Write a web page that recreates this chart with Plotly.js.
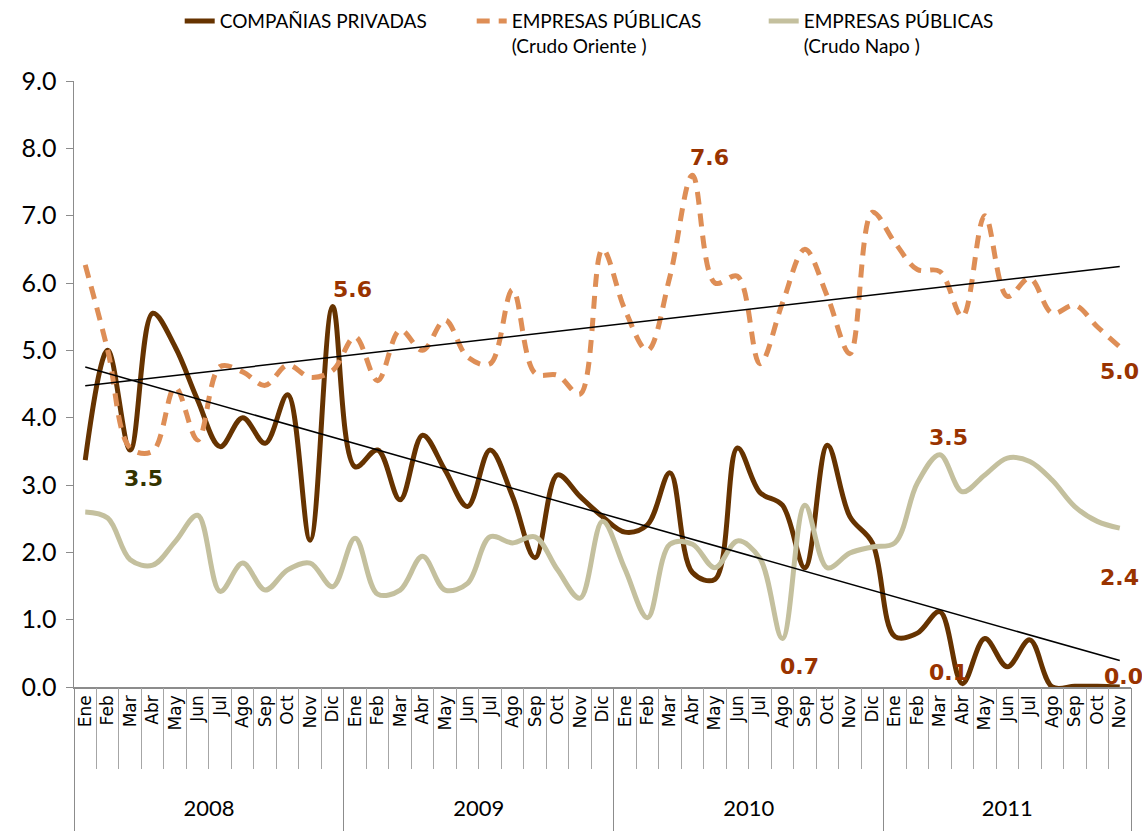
<!DOCTYPE html>
<html>
<head>
<meta charset="utf-8">
<script src="https://cdn.plot.ly/plotly-3.0.1.min.js"></script>
<style>
  html, body { margin: 0; padding: 0; background: #ffffff; }
  #chart { width: 1142px; height: 831px; }
</style>
</head>
<body>
<div id="chart"></div>
<script>
// ---- Data ----
const meses = [
  'Ene','Feb','Mar','Abr','May','Jun','Jul','Ago','Sep','Oct','Nov','Dic',
  'Ene','Feb','Mar','Abr','May','Jun','Jul','Ago','Sep','Oct','Nov','Dic',
  'Ene','Feb','Mar','Abr','May','Jun','Jul','Ago','Sep','Oct','Nov','Dic',
  'Ene','Feb','Mar','Abr','May','Jun','Jul','Ago','Sep','Oct','Nov'
];
const anios = ['2008', '2009', '2010', '2011'];
const mesesPorAnio = [12, 12, 12, 11];

const privadas = [
  3.37, 5.00, 3.52, 5.55, 5.05, 4.26, 3.57, 4.00, 3.62, 4.34, 2.18, 5.65,
  3.27, 3.52, 2.78, 3.74, 3.22, 2.68, 3.52, 2.83, 1.92, 3.15, 2.83, 2.53,
  2.30, 2.41, 3.18, 1.70, 1.60, 3.55, 2.89, 2.70, 1.77, 3.59, 2.53, 2.14,
  0.75, 0.80, 1.12, 0.05, 0.72, 0.30, 0.70, 0.00, 0.01, 0.01, 0.00
];
const oriente = [
  6.27, 5.00, 3.55, 3.50, 4.45, 3.67, 4.76, 4.68, 4.48, 4.78, 4.60, 4.70,
  5.20, 4.55, 5.30, 5.00, 5.45, 4.90, 4.80, 5.90, 4.66, 4.63, 4.35, 6.50,
  5.60, 5.00, 6.10, 7.60, 6.00, 6.10, 4.80, 5.70, 6.50, 5.80, 4.95, 7.05,
  6.60, 6.20, 6.17, 5.50, 7.00, 5.80, 6.07, 5.55, 5.67, 5.35, 5.05
];
const napo = [
  2.60, 2.51, 1.89, 1.81, 2.16, 2.55, 1.42, 1.84, 1.44, 1.74, 1.84, 1.49,
  2.21, 1.38, 1.44, 1.94, 1.44, 1.54, 2.23, 2.14, 2.23, 1.74, 1.32, 2.46,
  1.75, 1.03, 2.12, 2.12, 1.77, 2.17, 1.91, 0.72, 2.70, 1.77, 1.99, 2.08,
  2.14, 3.03, 3.45, 2.90, 3.15, 3.40, 3.35, 3.07, 2.68, 2.46, 2.36
];
const nombres = [
  'COMPAÑIAS PRIVADAS',
  'EMPRESAS PÚBLICAS<br>(Crudo Oriente )',
  'EMPRESAS PÚBLICAS<br>(Crudo Napo )'
];
// value labels: [month position, y position, text, colour key]
const etiquetas = [
  [2.6, 3.1, '3.5', 'olive'],
  [11.9, 5.9, '5.6', 'rust'],
  [27.75, 7.87, '7.6', 'rust'],
  [46.0, 4.68, '5.0', 'rust'],
  [38.4, 3.71, '3.5', 'rust'],
  [46.0, 1.63, '2.4', 'rust'],
  [31.75, 0.30, '0.7', 'rust'],
  [38.4, 0.21, '0.1', 'rust'],
  [46.15, 0.15, '0.0', 'rust']
];

// ---- Build ----
const idx = meses.map((_, i) => i);

function tendencia(y) {
  const n = y.length;
  let sx = 0, sy = 0, sxx = 0, sxy = 0;
  for (let i = 0; i < n; i++) { sx += i; sy += y[i]; sxx += i * i; sxy += i * y[i]; }
  const b = (n * sxy - sx * sy) / (n * sxx - sx * sx);
  const a = (sy - b * sx) / n;
  return { x: [0, n - 1], y: [a, a + b * (n - 1)] };
}

const tP = tendencia(privadas);
const tO = tendencia(oriente);

const traces = [
  {
    x: idx, y: privadas, name: nombres[0], type: 'scatter', mode: 'lines',
    line: { color: '#663300', width: 5, shape: 'spline', smoothing: 1 }
  },
  {
    x: idx, y: oriente, name: nombres[1], type: 'scatter', mode: 'lines',
    line: { color: '#DE8E56', width: 5, shape: 'spline', smoothing: 1, dash: '13px,9px' }
  },
  {
    x: idx, y: napo, name: nombres[2], type: 'scatter', mode: 'lines',
    line: { color: '#C4C09E', width: 5, shape: 'spline', smoothing: 1 }
  },
  {
    x: tP.x, y: tP.y, type: 'scatter', mode: 'lines', showlegend: false, hoverinfo: 'skip',
    line: { color: '#000000', width: 1.5 }
  },
  {
    x: tO.x, y: tO.y, type: 'scatter', mode: 'lines', showlegend: false, hoverinfo: 'skip',
    line: { color: '#000000', width: 1.5 }
  },
  // empty helper traces so the overlay axes (separators, years) are drawn
  { x: [], y: [], xaxis: 'x2', type: 'scatter', mode: 'lines', showlegend: false, hoverinfo: 'skip' },
  { x: [], y: [], xaxis: 'x3', type: 'scatter', mode: 'lines', showlegend: false, hoverinfo: 'skip' },
  { x: [], y: [], xaxis: 'x4', type: 'scatter', mode: 'lines', showlegend: false, hoverinfo: 'skip' }
];

// boundaries between months and between years
const limitesMes = [];
for (let i = 0; i <= meses.length; i++) limitesMes.push(i - 0.5);
const limitesAnio = [-0.5];
const centrosAnio = [];
let acc = 0;
mesesPorAnio.forEach(m => { centrosAnio.push(acc + (m - 1) / 2); acc += m; limitesAnio.push(acc - 0.5); });

const rango = [-0.5, meses.length - 0.5];
const annotations = etiquetas.map(e => ({
  x: e[0], y: e[1], xref: 'x', yref: 'y', text: e[2], showarrow: false,
  font: { family: 'DejaVu Sans', size: 22, color: e[3] === 'olive' ? '#333300' : '#993300', weight: 'bold' },
  xanchor: 'center', yanchor: 'middle'
}));

const layout = {
  width: 1142, height: 831,
  margin: { l: 74, r: 11, t: 81, b: 144, pad: 0, autoexpand: false },
  paper_bgcolor: '#ffffff', plot_bgcolor: '#ffffff',
  showlegend: true,
  legend: {
    orientation: 'h', x: 0.1, xanchor: 'left', y: 1.13, yanchor: 'top',
    valign: 'top', bgcolor: 'rgba(0,0,0,0)', itemwidth: 30, entrywidth: 247,
    font: { family: 'Lato', size: 19, color: '#000000' }
  },
  xaxis: {
    range: rango, tickvals: idx, ticktext: meses, tickangle: -90,
    ticks: '', showline: true, linecolor: '#8c8c8c', linewidth: 1.5,
    showgrid: false, zeroline: false, fixedrange: true,
    tickfont: { family: 'DejaVu Sans', size: 17, color: '#000000' }
  },
  xaxis2: {
    overlaying: 'x', anchor: 'y', side: 'bottom', range: rango, autorange: false,
    tickvals: limitesMes, ticks: 'outside', ticklen: 81, tickwidth: 1, tickcolor: '#a6a6a6',
    showticklabels: false, showline: false, showgrid: false, zeroline: false, fixedrange: true
  },
  xaxis3: {
    overlaying: 'x', anchor: 'y', side: 'bottom', range: rango, autorange: false,
    tickvals: limitesAnio, ticks: 'outside', ticklen: 144, tickwidth: 1, tickcolor: '#8c8c8c',
    showticklabels: false, showline: false, showgrid: false, zeroline: false, fixedrange: true
  },
  xaxis4: {
    overlaying: 'x', anchor: 'y', side: 'bottom', range: rango, autorange: false,
    tickvals: centrosAnio, ticktext: anios, ticks: '', ticklabelstandoff: 106,
    showline: false, showgrid: false, zeroline: false, fixedrange: true,
    tickfont: { family: 'Lato', size: 22, color: '#000000' }
  },
  yaxis: {
    range: [0, 9], tickvals: [0,1,2,3,4,5,6,7,8,9], tickformat: '.1f',
    ticks: 'outside', ticklen: 7, tickwidth: 1, tickcolor: '#8c8c8c',
    showline: true, linecolor: '#8c8c8c', linewidth: 1.5,
    showgrid: false, zeroline: false, fixedrange: true, ticklabelstandoff: 4,
    tickfont: { family: 'Lato', size: 25, color: '#000000' }
  },
  annotations: annotations
};

Plotly.newPlot('chart', traces, layout, { displayModeBar: false, staticPlot: true });
</script>
</body>
</html>
